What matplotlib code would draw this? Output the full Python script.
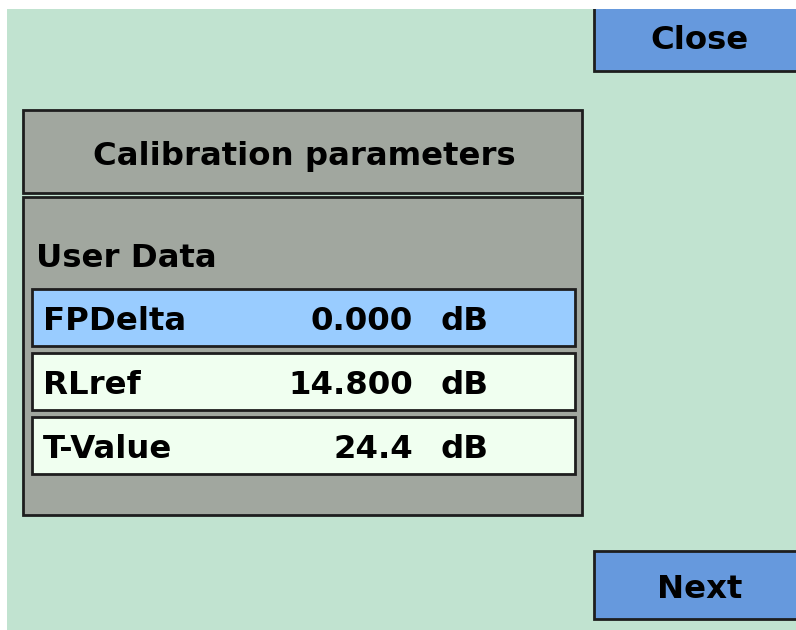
import matplotlib.pyplot as plt
from matplotlib.patches import Rectangle

# screen content
title = "Calibration parameters"
section = "User Data"
param_names = ["FPDelta", "RLref", "T-Value"]
param_values = ["0.000", "14.800", "24.4"]
param_units = ["dB", "dB", "dB"]
selected = 0
buttons = ["Close", "Next"]

BG = "#c1e3d0"
GRAY = "#a1a79f"
BLUE = "#6699dd"
SEL = "#99ccff"
ROW = "#f0fff0"
EDGE = "#1e1e1e"
FONT = "DejaVu Sans"
FS = 23.3

fig = plt.figure(figsize=(7.96, 6.30), dpi=100)
ax = fig.add_axes([0, 0, 1, 1])
ax.set_xlim(0, 796)
ax.set_ylim(630, 0)
ax.axis("off")


def box(x0, y0, x1, y1, color, lw=2.0):
    ax.add_patch(Rectangle((x0, y0), x1 - x0, y1 - y0, facecolor=color,
                           edgecolor=EDGE, linewidth=lw))


def label(x, y, s, ha="left"):
    # y is the text baseline in screen pixels
    ax.text(x, y, s, ha=ha, va="baseline", fontsize=FS,
            fontweight="bold", family=FONT, zorder=5)


# screen background
ax.add_patch(Rectangle((7, 9), 800 - 7, 640 - 9, facecolor=BG, edgecolor="none"))

# buttons on the right
box(594, -10, 805, 71, BLUE)
box(594, 551, 805, 619, BLUE)
label(700, 49, buttons[0], ha="center")
label(700, 598, buttons[1], ha="center")

# white margin at top and left of the screen grab
ax.add_patch(Rectangle((-5, -5), 810, 14, facecolor="white", edgecolor="none", zorder=4))
ax.add_patch(Rectangle((-5, -5), 12, 640, facecolor="white", edgecolor="none", zorder=4))

# title panel
box(23, 110, 582, 193, GRAY)
label(304, 165, title, ha="center")

# body panel
box(23, 197, 582, 515, GRAY)
label(36, 267, section)

row_top = 289
row_h = 57
row_gap = 7
for i in range(len(param_names)):
    y0 = row_top + i * (row_h + row_gap)
    box(32, y0, 575, y0 + row_h, SEL if i == selected else ROW)
    yb = y0 + 41
    label(43, yb, param_names[i])
    label(413, yb, param_values[i], ha="right")
    label(441, yb, param_units[i])

fig.savefig("out.png", dpi=100, facecolor="white")
